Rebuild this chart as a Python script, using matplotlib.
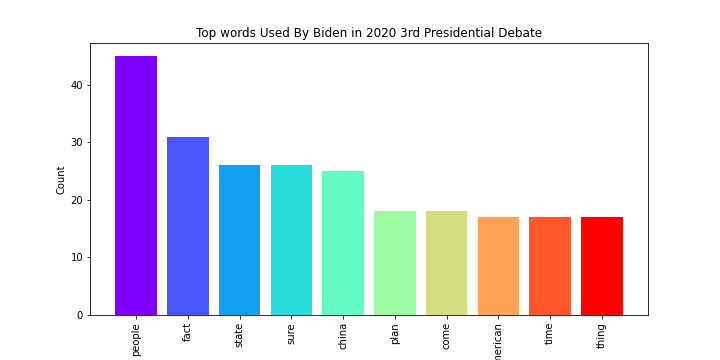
import numpy as np
import matplotlib
matplotlib.use("Agg")
from matplotlib import pyplot as plt

# word counts
words = ['people', 'fact', 'state', 'sure', 'china', 'plan', 'come',
         'american', 'time', 'thing']
counts = [45, 31, 26, 26, 25, 18, 18, 17, 17, 17]

colors = plt.cm.rainbow(np.linspace(0, 1, len(words)))

fig = plt.figure(figsize=(10, 5), dpi=72)
ax = fig.add_subplot(1, 1, 1)
fig.subplots_adjust(bottom=0.125)
ax.bar(words, counts, color=colors)
ax.set_title("Top words Used By Biden in 2020 3rd Presidential Debate")
ax.set_ylabel("Count")
plt.xticks(rotation=90)

fig.savefig('out.png', dpi=72)
